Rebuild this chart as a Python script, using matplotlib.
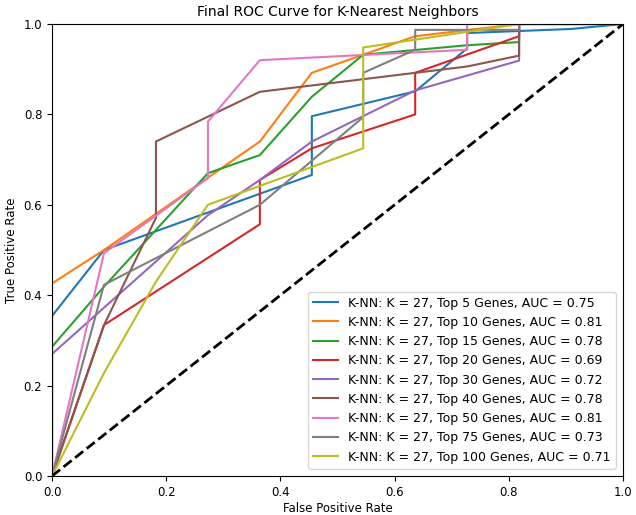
import matplotlib
matplotlib.use("Agg")
import matplotlib.pyplot as plt

# ROC points (FPR steps of 1/11)
labels = ["K-NN: K = 27, Top 5 Genes, AUC = 0.75",
          "K-NN: K = 27, Top 10 Genes, AUC = 0.81",
          "K-NN: K = 27, Top 15 Genes, AUC = 0.78",
          "K-NN: K = 27, Top 20 Genes, AUC = 0.69",
          "K-NN: K = 27, Top 30 Genes, AUC = 0.72",
          "K-NN: K = 27, Top 40 Genes, AUC = 0.78",
          "K-NN: K = 27, Top 50 Genes, AUC = 0.81",
          "K-NN: K = 27, Top 75 Genes, AUC = 0.73",
          "K-NN: K = 27, Top 100 Genes, AUC = 0.71"]

fpr_5 = [0, 0, 0.091, 0.455, 0.455, 0.636, 0.727, 0.727, 0.909, 1.0]
tpr_5 = [0, 0.354, 0.50, 0.666, 0.796, 0.851, 0.946, 0.98, 0.989, 1.0]

fpr_10 = [0, 0, 0.091, 0.273, 0.364, 0.455, 0.545, 0.636, 0.818, 1.0]
tpr_10 = [0, 0.426, 0.50, 0.66, 0.74, 0.892, 0.932, 0.973, 1.0, 1.0]

fpr_15 = [0, 0, 0.091, 0.273, 0.364, 0.455, 0.545, 0.727, 0.818, 0.818, 1.0]
tpr_15 = [0, 0.286, 0.419, 0.67, 0.71, 0.839, 0.932, 0.953, 0.96, 1.0, 1.0]

fpr_20 = [0, 0.091, 0.364, 0.364, 0.455, 0.636, 0.636, 0.818, 0.818, 1.0]
tpr_20 = [0, 0.334, 0.557, 0.655, 0.725, 0.80, 0.892, 0.973, 1.0, 1.0]

fpr_30 = [0, 0, 0.273, 0.364, 0.455, 0.636, 0.818, 0.818, 1.0]
tpr_30 = [0, 0.27, 0.577, 0.655, 0.74, 0.853, 0.919, 1.0, 1.0]

fpr_40 = [0, 0.091, 0.182, 0.182, 0.364, 0.727, 0.818, 0.818, 1.0]
tpr_40 = [0, 0.334, 0.571, 0.74, 0.85, 0.906, 0.93, 1.0, 1.0]

fpr_50 = [0, 0.091, 0.273, 0.273, 0.364, 0.727, 0.727, 1.0]
tpr_50 = [0, 0.493, 0.659, 0.784, 0.92, 0.943, 1.0, 1.0]

fpr_75 = [0, 0.091, 0.364, 0.545, 0.545, 0.636, 0.636, 0.818, 0.818, 1.0]
tpr_75 = [0, 0.423, 0.60, 0.794, 0.892, 0.943, 0.987, 0.987, 1.0, 1.0]

fpr_100 = [0, 0.091, 0.182, 0.273, 0.545, 0.545, 0.818, 1.0]
tpr_100 = [0, 0.228, 0.43, 0.60, 0.725, 0.948, 1.0, 1.0]

fprs = [fpr_5, fpr_10, fpr_15, fpr_20, fpr_30, fpr_40, fpr_50, fpr_75, fpr_100]
tprs = [tpr_5, tpr_10, tpr_15, tpr_20, tpr_30, tpr_40, tpr_50, tpr_75, tpr_100]

fig = plt.figure(figsize=(6.36, 5.15), dpi=100)
ax = fig.add_axes([0.0818, 0.0757, 0.8978, 0.8777])

for fpr, tpr, lab in zip(fprs, tprs, labels):
    ax.plot(fpr, tpr, lw=1.5, label=lab)
ax.plot([0, 1], [0, 1], 'k--', lw=2)

ax.set_xlim(0, 1)
ax.set_ylim(0, 1)
ax.set_xlabel('False Positive Rate', fontsize=8.5, labelpad=2)
ax.set_ylabel('True Positive Rate', fontsize=8.5)
ax.set_title('Final ROC Curve for K-Nearest Neighbors', fontsize=10)
ax.tick_params(labelsize=8.5)
ax.legend(loc='lower right', fontsize=9.0, borderaxespad=0.6)

fig.savefig('out.png', dpi=100)
